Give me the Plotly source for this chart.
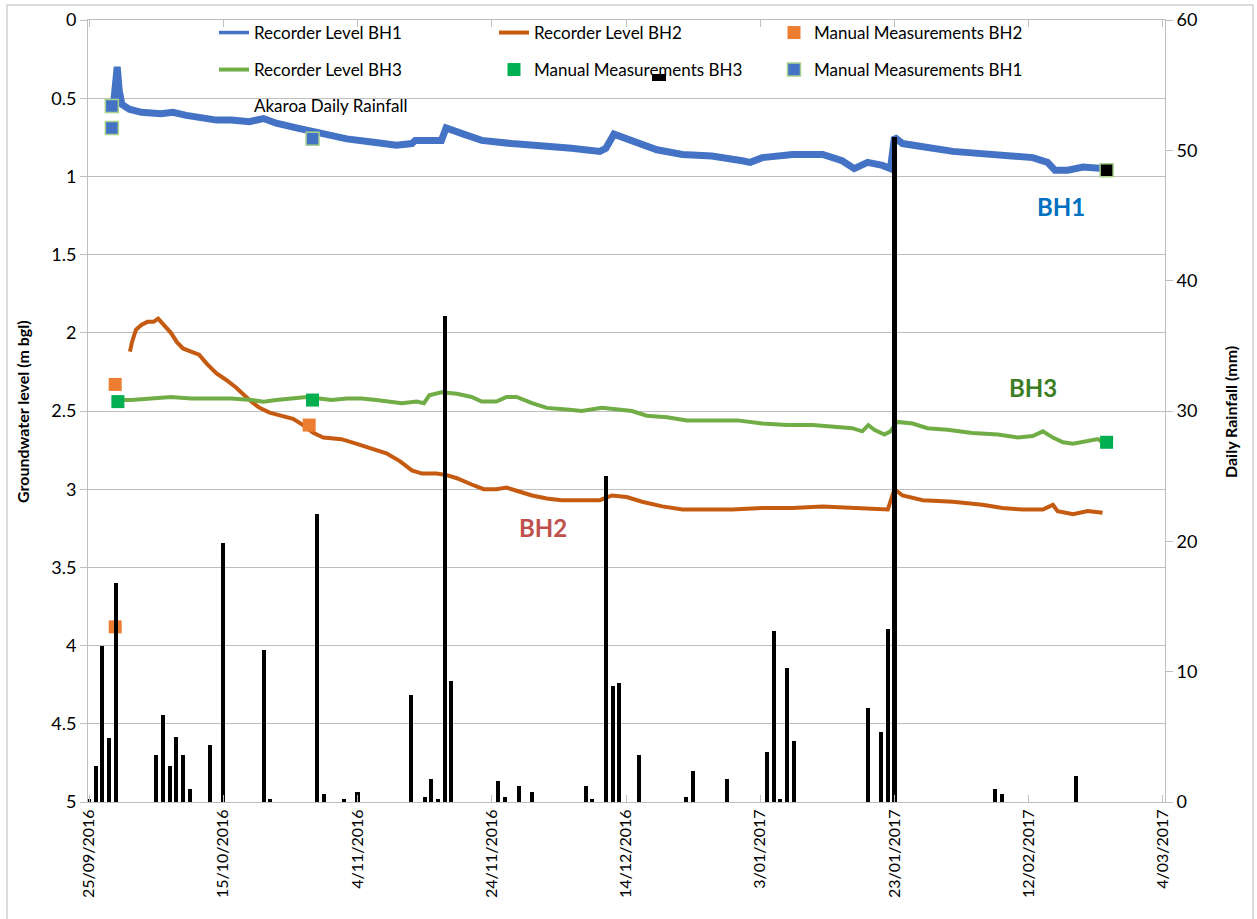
import pandas as pd
import plotly.graph_objects as go

BASE_DATE = "2016-09-25"

# ---- Data (day offsets from 25/09/2016) ----
bh1_day = [3.7,4.0,4.2,4.5,4.9,6.0,7.8,10.7,12.5,14.5,16.7,19.0,21.2,23.9,26.0,27.9,30.9,34.6,38.4,42.1,
           45.8,48.1,48.6,52.5,53.2,55.8,58.5,63.0,67.5,71.9,76.1,77.0,78.2,80.1,82.4,84.6,88.4,92.8,97.3,98.5,
           100.3,104.8,109.3,112.2,114.0,116.0,118.2,119.4,120.0,121.2,128.7,136.1,140.6,142.8,143.9,145.8,148.1,151.0]
bh1_level = [0.52,0.40,0.30,0.45,0.54,0.57,0.59,0.60,0.59,0.61,0.63,0.64,0.64,0.65,0.63,0.66,0.69,0.73,0.76,0.78,
             0.80,0.79,0.77,0.77,0.69,0.73,0.77,0.79,0.80,0.82,0.84,0.82,0.73,0.76,0.79,0.83,0.86,0.87,0.90,0.91,
             0.88,0.86,0.86,0.90,0.95,0.91,0.93,0.95,0.75,0.79,0.84,0.87,0.88,0.91,0.96,0.96,0.94,0.95]

bh2_day = [6.1,6.4,7.0,7.8,8.7,9.6,10.3,11.2,12.2,13.1,14.0,15.2,16.4,17.6,19.0,20.4,21.9,23.9,25.4,26.9,
           28.7,30.4,31.9,33.4,34.9,37.6,39.9,42.1,44.3,46.3,48.1,49.6,51.8,53.3,54.8,57.0,58.8,60.7,62.2,63.7,
           66.0,68.2,70.4,73.4,76.1,77.9,80.1,82.4,85.4,88.4,91.3,95.8,100.3,104.8,109.3,113.7,116.7,119.0,120.0,121.2,
           124.2,128.7,133.1,136.1,139.1,142.1,143.6,144.3,146.6,148.8,151.0]
bh2_level = [2.12,2.06,1.98,1.95,1.93,1.93,1.91,1.95,2.00,2.06,2.10,2.12,2.14,2.20,2.26,2.30,2.35,2.43,2.48,2.51,
             2.53,2.55,2.59,2.64,2.67,2.68,2.71,2.74,2.77,2.82,2.88,2.90,2.90,2.91,2.93,2.97,3.00,3.00,2.99,3.01,
             3.04,3.06,3.07,3.07,3.07,3.04,3.05,3.08,3.11,3.13,3.13,3.13,3.12,3.12,3.11,3.12,3.13,3.13,3.00,3.04,
             3.07,3.08,3.10,3.12,3.13,3.13,3.10,3.14,3.16,3.14,3.15]

bh3_day = [4.5,6.3,9.3,12.2,15.2,18.2,21.2,24.2,26.0,27.9,30.1,32.4,34.3,36.1,38.4,40.6,42.8,45.1,46.6,48.8,
           49.9,50.7,52.5,54.8,57.0,58.5,60.7,62.2,63.7,66.0,68.2,71.2,73.4,76.4,78.7,80.9,83.1,86.1,89.1,92.8,
           96.6,100.3,104.0,107.8,111.5,113.7,115.2,116.1,117.0,118.5,119.4,120.4,122.7,124.9,127.9,131.6,135.4,138.4,140.6,142.1,
           143.6,145.1,146.6,148.8,150.3,151.0]
bh3_level = [2.43,2.43,2.42,2.41,2.42,2.42,2.42,2.43,2.44,2.43,2.42,2.41,2.42,2.43,2.42,2.42,2.43,2.44,2.45,2.44,
             2.45,2.40,2.38,2.39,2.41,2.44,2.44,2.41,2.41,2.45,2.48,2.49,2.50,2.48,2.49,2.50,2.53,2.54,2.56,2.56,
             2.56,2.58,2.59,2.59,2.60,2.61,2.63,2.59,2.62,2.65,2.63,2.57,2.58,2.61,2.62,2.64,2.65,2.67,2.66,2.63,
             2.67,2.70,2.71,2.69,2.68,2.70]

man_bh1_day = [3.4, 3.4, 33.3, 151.6]
man_bh1_level = [0.55, 0.69, 0.76, 0.96]
man_bh2_day = [3.9, 3.9, 32.8]
man_bh2_level = [2.33, 3.88, 2.59]
man_bh3_day = [4.3, 33.3, 151.6]
man_bh3_level = [2.44, 2.43, 2.70]

rain_day = [0,1,2,3,4,10,11,12,13,14,15,18,20,26,27,34,35,38,40,48,50,51,52,53,54,61,62,64,66,
            74,75,77,78,79,82,89,90,95,101,102,103,104,105,116,118,119,120,135,136,147]
rain_mm = [0.2,2.8,12.0,4.9,16.8,3.6,6.7,2.8,5.0,3.6,1.0,4.4,19.9,11.7,0.2,22.1,0.6,0.2,0.8,8.2,0.4,1.8,0.2,37.3,9.3,
           1.6,0.4,1.2,0.8,1.2,0.2,25.0,8.9,9.1,3.6,0.4,2.4,1.8,3.8,13.1,0.2,10.3,4.7,7.2,5.4,13.3,51.0,1.0,0.6,2.0]

base = pd.Timestamp(BASE_DATE)
def to_dates(days):
    return list(base + pd.to_timedelta(days, unit="D"))

# ---- Layout geometry (pixels) ----
W, H = 1257, 919
L, R, T, B = 88, 92, 20, 117
PW, PH = W - L - R, H - T - B
def px(xp):
    return (xp - L) / PW
def py(yp):
    return (H - B - yp) / PH

FONT = "Lato"
BLUE = "#4472C4"
ORANGE = "#C55A11"
GREEN = "#70AD47"
GRID = "#BFBFBF"

fig = go.Figure()

# BH1 recorder line (legend entry drawn separately with thinner sample line)
fig.add_trace(go.Scatter(x=to_dates(bh1_day), y=bh1_level, mode="lines", name="Recorder Level BH1",
                         line=dict(color=BLUE, width=7), showlegend=False))
fig.add_trace(go.Scatter(x=[None], y=[None], mode="lines", name="Recorder Level BH1",
                         line=dict(color=BLUE, width=3.5), legend="legend"))
fig.add_trace(go.Scatter(x=to_dates(bh2_day), y=bh2_level, mode="lines", name="Recorder Level BH2",
                         line=dict(color=ORANGE, width=4), legend="legend"))
fig.add_trace(go.Scatter(x=to_dates(man_bh2_day), y=man_bh2_level, mode="markers", name="Manual Measurements BH2",
                         marker=dict(symbol="square", size=13, color="#ED7D31"), legend="legend"))
fig.add_trace(go.Scatter(x=to_dates(bh3_day), y=bh3_level, mode="lines", name="Recorder Level BH3",
                         line=dict(color=GREEN, width=4), legend="legend2"))
fig.add_trace(go.Scatter(x=to_dates(man_bh3_day), y=man_bh3_level, mode="markers", name="Manual Measurements BH3",
                         marker=dict(symbol="square", size=13, color="#00B050"), legend="legend2"))
fig.add_trace(go.Scatter(x=to_dates(man_bh1_day), y=man_bh1_level, mode="markers", name="Manual Measurements BH1",
                         marker=dict(symbol="square", size=13, color=[BLUE, BLUE, BLUE, "#000000"],
                                     line=dict(color="#A9D18E", width=1.5)), legend="legend2"))
# legend entry for rainfall (its glyph is displaced in the original)
fig.add_trace(go.Scatter(x=[None], y=[None], mode="markers", name="Akaroa Daily Rainfall",
                         marker=dict(color="rgba(0,0,0,0)", size=1), legend="legend3"))
fig.add_trace(go.Bar(x=to_dates(rain_day), y=rain_mm, name="Akaroa Daily Rainfall", yaxis="y2",
                     marker=dict(color="#000000", line=dict(width=0)), width=0.6 * 86400000,
                     showlegend=False))

x_start = base + pd.Timedelta(days=-0.15)
x_end = base + pd.Timedelta(days=160.3)

legend_common = dict(orientation="h", xanchor="left", yanchor="middle", bgcolor="rgba(0,0,0,0)",
                     font=dict(family=FONT, size=17, color="#000000"), entrywidth=235,
                     entrywidthmode="pixels", itemclick=False, itemdoubleclick=False,
                     tracegroupgap=0)

fig.update_layout(
    width=W, height=H,
    margin=dict(l=L, r=R, t=T, b=B, autoexpand=False),
    paper_bgcolor="white", plot_bgcolor="white",
    font=dict(family=FONT, color="#000000"),
    bargap=0,
    xaxis=dict(type="date", range=[x_start, x_end], tick0=BASE_DATE, dtick=20 * 86400000,
               tickformat="%-d/%m/%Y", tickangle=-90, tickfont=dict(family=FONT, size=16),
               showgrid=False, showline=True, linecolor=GRID, linewidth=1,
               ticks="inside", ticklen=7, tickcolor=GRID, mirror="ticks", zeroline=False),
    yaxis=dict(range=[5, 0], dtick=0.5, tick0=0, showgrid=True, gridcolor=GRID, gridwidth=1,
               showline=True, linecolor=GRID, ticks="outside", ticklen=7, tickcolor=GRID,
               tickfont=dict(family=FONT, size=18), zeroline=False),
    yaxis2=dict(range=[0, 60], dtick=10, overlaying="y", side="right", showgrid=False,
                showline=True, linecolor=GRID, ticks="outside", ticklen=7, tickcolor=GRID,
                tickfont=dict(family=FONT, size=18), zeroline=False),
    legend=dict(x=px(214), y=py(33), **legend_common),
    legend2=dict(x=px(214), y=py(70), **legend_common),
    legend3=dict(x=px(214), y=py(106), **legend_common),
    showlegend=True,
)

annotations = [
    dict(text="<b>BH1</b>", x=px(1061), y=py(207), font=dict(family=FONT, size=24, color="#0070C0")),
    dict(text="<b>BH3</b>", x=px(1033), y=py(387), font=dict(family=FONT, size=24, color="#3B7D23")),
    dict(text="<b>BH2</b>", x=px(543), y=py(527), font=dict(family=FONT, size=24, color="#C0504D")),
    dict(text="<b>Groundwater level (m bgl)</b>", x=px(22), y=py(412), textangle=-90,
         font=dict(family=FONT, size=16, color="#000000")),
    dict(text="<b>Daily Rainfall (mm)</b>", x=px(1230), y=py(412), textangle=-90,
         font=dict(family=FONT, size=16, color="#000000")),
]
for a in annotations:
    a.update(xref="paper", yref="paper", showarrow=False, xanchor="center", yanchor="middle")
fig.update_layout(annotations=annotations)

fig.update_layout(shapes=[
    # displaced rainfall legend glyph
    dict(type="rect", xref="paper", yref="paper", x0=px(652), x1=px(666), y0=py(81), y1=py(74),
         fillcolor="#000000", line=dict(width=0)),
    # chart outer border
    dict(type="rect", xref="paper", yref="paper", x0=px(7), x1=px(1253), y0=py(930), y1=py(5),
         line=dict(color="#D0D0D0", width=1.5), fillcolor="rgba(0,0,0,0)", layer="below"),
])

fig.write_html("out.html", config={"displayModeBar": False},
               post_script="document.body.style.margin='0';document.body.style.padding='0';"
                           "document.documentElement.style.overflow='hidden';")
